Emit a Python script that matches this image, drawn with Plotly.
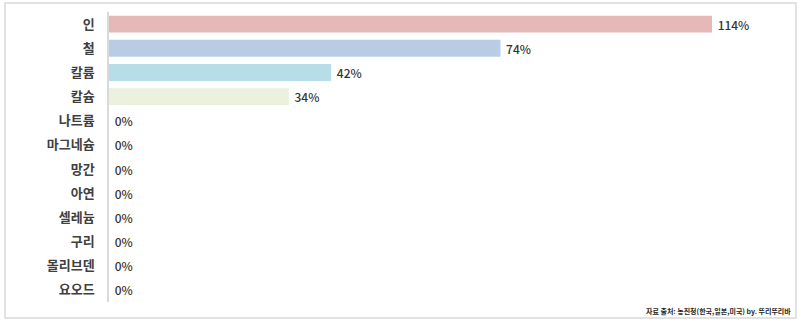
import plotly.graph_objects as go

categories = ["인", "철", "칼륨", "칼슘", "나트륨", "마그네슘", "망간", "아연", "셀레늄", "구리", "몰리브덴", "요오드"]
values = [114, 74, 42, 34, 0, 0, 0, 0, 0, 0, 0, 0]
colors = ["#E6B8B7", "#B8CCE4", "#B7DEE8", "#EBF1DE", "#F2DCDB", "#DCE6F1",
          "#DAEEF3", "#EBF1DE", "#E6B8B7", "#B8CCE4", "#B7DEE8", "#EBF1DE"]
source = "자료 출처: 농진청(한국,일본,미국) by. 뚜리뚜리바"

W, H = 802, 323
L, R, T, B = 109, 7, 12, 21
pw = W - L - R
ph = H - T - B
xmax = pw / ((712 - 109) / 114)

fig = go.Figure(go.Bar(
    y=categories, x=values, orientation="h",
    marker=dict(color=colors, line=dict(width=0)),
    text=[f" {v}%" for v in values], textposition="outside",
    textfont=dict(family="Noto Sans CJK KR", size=12, color="#333333", weight=500),
    cliponaxis=False,
))

def px2x(p):
    return (p - L) / pw

def px2y(p):
    return 1 - (p - T) / ph

fig.add_shape(type="rect", xref="paper", yref="paper",
              x0=px2x(5), x1=px2x(796), y0=px2y(318), y1=px2y(3),
              line=dict(color="#D9D9D9", width=1.5), fillcolor="rgba(0,0,0,0)", layer="below")

fig.add_annotation(text=source, xref="paper", yref="paper", x=px2x(793), y=px2y(311),
                   xanchor="right", yanchor="middle", showarrow=False,
                   font=dict(family="Noto Sans CJK KR", size=7, color="#262626", weight="bold"))

fig.update_layout(
    width=W, height=H, margin=dict(l=L, r=R, t=T, b=B, pad=0),
    paper_bgcolor="white", plot_bgcolor="white",
    bargap=0.3, showlegend=False,
    xaxis=dict(range=[0, xmax], visible=False, fixedrange=True),
    yaxis=dict(autorange="reversed", showline=True, linecolor="#D9D9D9", linewidth=1.5,
               showgrid=False, ticks="", ticklabelstandoff=10,
               tickfont=dict(family="Noto Sans CJK KR", size=13, color="#404040", weight="bold")),
)

fig.write_html("out.html")
